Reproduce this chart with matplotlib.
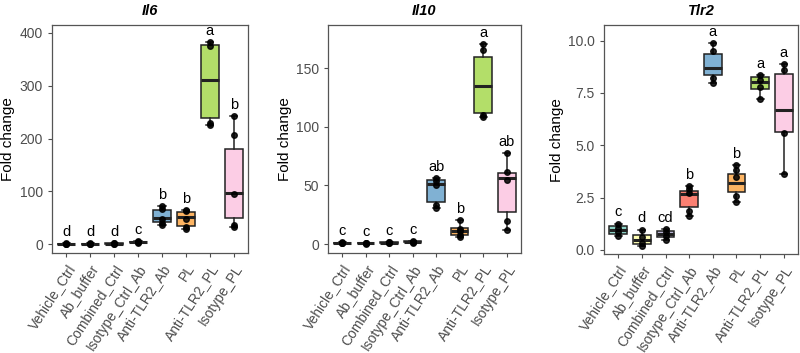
#######################################################################
# Экспрессия генов Il6, Il10, Tlr2 по группам (боксплоты)
#######################################################################

import matplotlib
matplotlib.use("Agg")
import matplotlib.pyplot as plt

#######################################################################
groups = ["Vehicle_Ctrl", "Ab_buffer", "Combined_Ctrl", "Isotype_Ctrl_Ab",
          "Anti-TLR2_Ab", "PL", "Anti-TLR2_PL", "Isotype_PL"]
colors = ["#8DD3C7", "#FFFFB3", "#BEBADA", "#FB8072",
          "#80B1D3", "#FDB462", "#B3DE69", "#FCCDE5"]
genes = ["Il6", "Il10", "Tlr2"]

# Статистика боксов: нижний ус, Q1, медиана, Q3, верхний ус
il6_lo  = [0.6, 0.5, 0.5, 2.5, 36, 28, 225, 33]
il6_q1  = [0.85, 0.8, 0.8, 3.3, 42, 34, 239, 49]
il6_med = [1.0, 0.95, 1.0, 4.0, 49, 51, 310, 97]
il6_q3  = [1.15, 1.1, 1.3, 4.8, 64, 61, 377, 180]
il6_hi  = [1.4, 1.3, 1.8, 5.5, 72, 64, 382, 243]
il6_pts = [[0.6, 0.9, 1.1, 1.4], [0.5, 0.9, 1.0, 1.3], [0.5, 0.9, 1.2, 1.8],
           [2.5, 3.5, 4.5, 5.5], [36, 40, 47, 66, 72], [28, 33, 48, 62, 64],
           [225, 230, 376, 382], [33, 36, 95, 207, 243]]
il6_letters = ["d", "d", "d", "c", "b", "b", "a", "b"]

il10_lo  = [0.6, 0.4, 0.6, 1.0, 31, 5.7, 108.5, 12]
il10_q1  = [0.8, 0.6, 0.9, 1.4, 36, 7.7, 112, 27]
il10_med = [1.0, 0.8, 1.2, 1.8, 51, 11.4, 135, 56]
il10_q3  = [1.2, 1.0, 1.5, 2.3, 54.5, 13.6, 159, 60.5]
il10_hi  = [1.5, 1.2, 1.9, 2.8, 56.5, 20.5, 170.7, 78]
il10_pts = [[0.6, 0.9, 1.1, 1.5], [0.4, 0.7, 0.9, 1.2], [0.6, 1.0, 1.4, 1.9],
            [1.0, 1.5, 2.1, 2.8], [31, 33, 50, 54, 56.5], [5.7, 8, 11, 13, 20.5],
            [108.5, 110, 165, 170.7], [12, 19.3, 55, 61, 78]]
il10_letters = ["c", "c", "c", "c", "ab", "b", "a", "ab"]

tlr2_lo  = [0.65, 0.18, 0.46, 1.61, 7.95, 2.29, 7.2, 3.65]
tlr2_q1  = [0.78, 0.30, 0.62, 2.05, 8.35, 2.77, 7.71, 5.64]
tlr2_med = [0.97, 0.50, 0.76, 2.65, 8.71, 3.2, 8.0, 6.67]
tlr2_q3  = [1.13, 0.70, 0.91, 2.82, 9.38, 3.65, 8.24, 8.38]
tlr2_hi  = [1.26, 0.97, 1.0, 3.04, 9.86, 4.05, 8.35, 8.87]
tlr2_pts = [[0.65, 0.85, 1.05, 1.26], [0.18, 0.35, 0.6, 0.97], [0.46, 0.68, 0.85, 1.0],
            [1.61, 1.85, 2.7, 2.9, 3.04], [7.95, 8.2, 9.5, 9.86], [2.29, 2.6, 3.5, 3.8, 4.05],
            [7.2, 7.8, 8.1, 8.35], [3.65, 5.6, 8.6, 8.87]]
tlr2_letters = ["c", "d", "cd", "b", "a", "b", "a", "a"]

il6_ticks = [0, 100, 200, 300, 400]
il10_ticks = [0, 50, 100, 150]
tlr2_ticks = [0.0, 2.5, 5.0, 7.5, 10.0]

#######################################################################
# Функции
#######################################################################
def draw_panel(ax, title, lo, q1, med, q3, hi, pts, letters, ticks, ylim, fmt):
    """ Рисуем одну панель: боксы, точки, буквы значимости """
    stats = []
    for i in range(len(groups)):
        stats.append({"whislo": lo[i], "q1": q1[i], "med": med[i],
                      "q3": q3[i], "whishi": hi[i], "fliers": []})
    pos = list(range(1, len(groups) + 1))
    bp = ax.bxp(stats, positions=pos, widths=0.75, patch_artist=True,
                capwidths=0.3, showfliers=False,
                boxprops=dict(edgecolor="#222222", linewidth=1.1),
                whiskerprops=dict(color="#222222", linewidth=1.1),
                capprops=dict(color="#222222", linewidth=1.1),
                medianprops=dict(color="#222222", linewidth=2.2))
    for patch, c in zip(bp["boxes"], colors):
        patch.set_facecolor(c)
    # точки повторов
    for i, p in enumerate(pts):
        ax.plot([pos[i]] * len(p), p, "o", color="black", ms=4, alpha=0.85,
                zorder=5)
    # буквы над усами
    off = 0.055 * max(hi)
    for i, t in enumerate(letters):
        ax.text(pos[i], hi[i] + off, t, ha="center", va="center",
                fontsize=10.5, color="black")
    ax.set_title(title, fontsize=10.5, fontweight="bold", style="italic", pad=7)
    ax.set_xlim(0.4, 8.6)
    ax.set_ylim(*ylim)
    ax.set_yticks(ticks)
    ax.set_yticklabels([fmt.format(t) for t in ticks])
    ax.set_xticks(pos)
    ax.set_xticklabels(groups, rotation=57, ha="right", va="top",
                       rotation_mode="anchor")
    ax.set_ylabel("Fold change", fontsize=11, color="black", labelpad=3)
    ax.tick_params(axis="both", labelsize=10, colors="#4D4D4D", length=3,
                   width=0.8, labelcolor="#4D4D4D")
    for sp in ax.spines.values():
        sp.set_color("#555555")
        sp.set_linewidth(0.9)

#######################################################################
# MAIN SCRIPT
#######################################################################
plt.rcParams["font.family"] = ["Liberation Sans", "DejaVu Sans"]

fig = plt.figure(figsize=(8.0, 3.53), dpi=100)
ax1 = fig.add_axes([0.065, 0.283, 0.245, 0.646])
ax2 = fig.add_axes([0.410, 0.283, 0.241, 0.646])
ax3 = fig.add_axes([0.755, 0.280, 0.2425, 0.649])

draw_panel(ax1, "Il6", il6_lo, il6_q1, il6_med, il6_q3, il6_hi, il6_pts,
           il6_letters, il6_ticks, (-17, 415), "{:.0f}")
draw_panel(ax2, "Il10", il10_lo, il10_q1, il10_med, il10_q3, il10_hi, il10_pts,
           il10_letters, il10_ticks, (-7.7, 186.6), "{:.0f}")
draw_panel(ax3, "Tlr2", tlr2_lo, tlr2_q1, tlr2_med, tlr2_q3, tlr2_hi, tlr2_pts,
           tlr2_letters, tlr2_ticks, (-0.2, 10.74), "{:.1f}")

fig.savefig("out.png", dpi=100)
